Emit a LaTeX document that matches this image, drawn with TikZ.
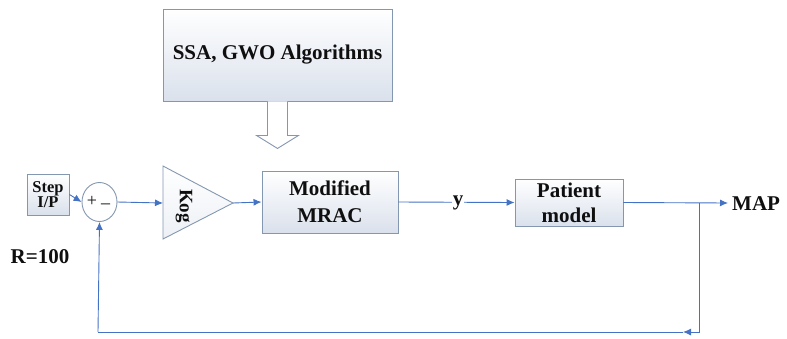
\documentclass[tikz,border=0pt]{standalone}
\usepackage{fontspec}
\setmainfont{Liberation Serif}
\usetikzlibrary{arrows.meta,shapes.geometric,calc}
\definecolor{lineblue}{RGB}{68,114,196}
\definecolor{edgegray}{RGB}{132,151,176}
\definecolor{boxfill}{RGB}{218,225,236}
\definecolor{ink}{RGB}{15,15,15}
\tikzset{
  blk/.style={draw=edgegray, line width=0.9pt, top color=white, bottom color=boxfill,
    inner sep=0pt, align=center, text=ink, font=\bfseries\fontsize{21}{26}\selectfont},
  flow/.style={draw=lineblue, line width=0.9pt, -{Latex[length=8pt,width=7pt]}},
  plain/.style={draw=lineblue, line width=0.9pt},
  lbl/.style={text=ink, font=\bfseries\fontsize{21}{26}\selectfont, inner sep=1pt},
}
\begin{document}
\begin{tikzpicture}[x=1pt,y=-1pt]
\useasboundingbox (0,0) rectangle (787,338);
% optimiser box
\node[blk, minimum width=229pt, minimum height=92pt] (ssa) at (277.5,55) {SSA, GWO Algorithms};
% hollow arrow
\draw[draw=edgegray, line width=0.9pt, fill=white]
  ($(ssa.south)+(-10,0)$) -- ++(0,34) -- ++(-11,0) -- ++(21,13) -- ++(21,-13) -- ++(-11,0) -- ($(ssa.south)+(10,0)$);
% step input
\node[blk, minimum width=42pt, minimum height=41pt, font=\bfseries\fontsize{16.5}{15}\selectfont] (step) at (48,194.5) {Step\\I/P};
% summing junction
\node[draw=edgegray, line width=0.9pt, fill=white, ellipse, minimum width=35pt, minimum height=39pt, inner sep=0pt] (sum) at (99.5,202) {};
\node[text=ink, font=\fontsize{18}{18}\selectfont, inner sep=0pt] (plus) at (92,201) {+};
\node[text=ink, font=\fontsize{18}{18}\selectfont, inner sep=0pt] (minus) at (105.5,204) {\_};
% gain triangle
\draw[draw=edgegray, line width=0.9pt, top color=white, bottom color=boxfill!50] (163,166) -- (233,203) -- (163,239) -- cycle;
\coordinate (kin) at (163,203);
\coordinate (kout) at (233,203);
\node[rotate=-90, text=ink, font=\bfseries\fontsize{19}{19}\selectfont, inner sep=0pt] (kog) at (184,206) {Kog};
% controller
\node[blk, minimum width=136pt, minimum height=62pt, font=\bfseries\fontsize{21}{27}\selectfont] (mrac) at (330,202) {Modified\\MRAC};
% patient
\node[blk, minimum width=108pt, minimum height=47pt, font=\bfseries\fontsize{21}{25}\selectfont] (pat) at (569,202.5) {Patient\\model};
% output
\coordinate (br) at (699,203);
\coordinate (tip) at (728,203);
\node[lbl, anchor=west] (map) at (731,204) {MAP};
\node[lbl] (r) at (40,257) {R=100};
\coordinate (bl) at (699,332);
\coordinate (ah) at (683,332);
\coordinate (fl) at (98,332);
% connectors
\draw[flow] (step.east) -- (sum.west);
\draw[flow] (sum.east) -- (kin);
\draw[flow] (kout) -- (mrac.west);
\draw[flow] (mrac.east) -- (pat.west);
\node[lbl, fill=white, inner sep=1pt] (ylab) at (458,203) {y};
\draw[flow] (pat.east) -- (tip);
\draw[flow] (br) -- (bl) -- (ah);
\draw[plain] (ah) -- (fl);
\draw[flow] (fl) -- (sum.south);
\end{tikzpicture}
\end{document}
